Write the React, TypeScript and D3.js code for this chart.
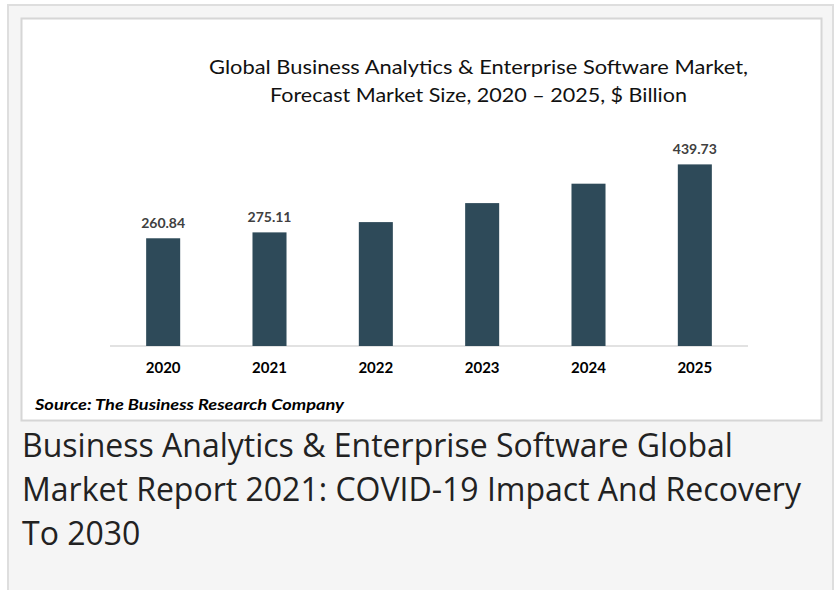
import React from 'react';
import { scaleBand, scaleLinear } from 'd3';

const years = ['2020', '2021', '2022', '2023', '2024', '2025'];
const marketSize = [260.84, 275.11, 300, 346, 393, 439.73];
const valueLabels = ['260.84', '275.11', '', '', '', '439.73'];
const titleLines = [
  'Global Business Analytics & Enterprise Software Market,',
  'Forecast Market Size, 2020 \u2013 2025, $ Billion',
];
const sourceText = 'Source: The Business Research Company';
const captionLines = [
  'Business Analytics & Enterprise Software Global',
  'Market Report 2021: COVID-19 Impact And Recovery',
  'To 2030',
];

const W = 836;
const H = 590;
const chartFont = 'Lato, "Open Sans", sans-serif';

export default function App() {
  const x = scaleBand<string>().domain(years).range([110, 748]).padding(0);
  const y = scaleLinear().domain([0, 500]).range([346, 139.5]);
  const barW = x.bandwidth() * 0.32;

  return (
    <svg
      width={W}
      height={H}
      style={{ position: 'absolute', left: 0, top: 0, background: '#fff' }}
    >
      {/* outer page card */}
      <rect x={8} y={5} width={825} height={600} fill="#f5f5f5" stroke="#dedede" strokeWidth={2} />
      {/* chart image frame */}
      <rect x={21.5} y={18.5} width={800} height={402} fill="#fff" stroke="#d6d6d6" strokeWidth={2} />

      {titleLines.map((t, i) => (
        <text
          key={t}
          x={478.5}
          y={74 + i * 28}
          textAnchor="middle"
          fontFamily={chartFont}
          fontSize={19}
          fill="#111"
          textLength={i === 0 ? 539 : 417}
          lengthAdjust="spacingAndGlyphs"
        >
          {t}
        </text>
      ))}

      <line x1={110} x2={748} y1={346} y2={346} stroke="#d9d9d9" strokeWidth={1.5} />

      {years.map((yr, i) => {
        const cx = (x(yr) ?? 0) + x.bandwidth() / 2;
        const top = y(marketSize[i]);
        return (
          <g key={yr}>
            <rect x={cx - barW / 2} y={top} width={barW} height={y(0) - top} fill="#2e4a59" />
            {valueLabels[i] && (
              <text
                x={cx}
                y={top - 10.5}
                textAnchor="middle"
                fontFamily={chartFont}
                fontWeight="bold"
                fontSize={14}
                fill="#404040"
              >
                {valueLabels[i]}
              </text>
            )}
            <text
              x={cx}
              y={373}
              textAnchor="middle"
              fontFamily={chartFont}
              fontWeight="bold"
              fontSize={15}
              fill="#000"
            >
              {yr}
            </text>
          </g>
        );
      })}

      <text
        x={35}
        y={410}
        fontFamily={chartFont}
        fontWeight="bold"
        fontStyle="italic"
        fontSize={15}
        fill="#000"
        textLength={309}
        lengthAdjust="spacingAndGlyphs"
      >
        {sourceText}
      </text>

      {captionLines.map((t, i) => (
        <text
          key={t}
          x={22}
          y={457 + i * 44}
          fontFamily='"Open Sans", sans-serif'
          fontSize={32}
          fill="#222"
        >
          {t}
        </text>
      ))}
    </svg>
  );
}
